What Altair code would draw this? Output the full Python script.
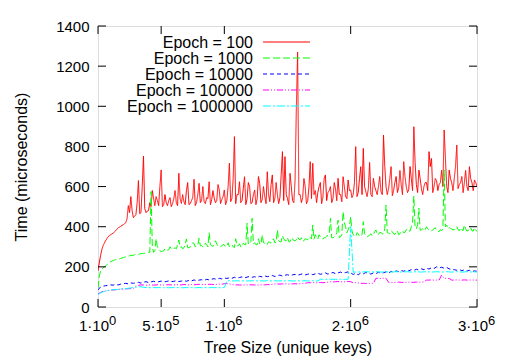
import altair as alt
import pandas as pd

# ---------------- data ----------------
key_step = 20000  # samples every 20 000 keys, 0 .. 3e6 (151 values)
# red and green are very noisy: extra samples read half-way between (10 000 + 20 000*i)

series_names = ["Epoch = 100", "Epoch = 1000", "Epoch = 10000",
                "Epoch = 100000", "Epoch = 1000000"]
series_colors = ["#ff0000", "#00ff00", "#0000ff", "#ff00ff", "#00ffff"]
series_dashes = [[1, 0], [7, 3], [4, 3], [6, 2, 1, 2, 1, 2], [8, 2, 2, 2]]

epoch_100 = [
    180, 255, 305, 330, 350, 360, 368, 380, 395, 402,
    410, 420, 505, 550, 445, 460, 630, 470, 752, 470,
    480, 500, 540, 550, 505, 683, 510, 520, 530, 500,
    540, 520, 666, 516, 525, 580, 510, 530, 636, 520,
    616, 530, 525, 545, 624, 535, 541, 530, 583, 535,
    583, 530, 716, 540, 849, 560, 624, 530, 649, 540,
    600, 520, 583, 540, 616, 535, 550, 674, 525, 658,
    540, 560, 545, 774, 749, 540, 666, 530, 633, 1270,
    560, 545, 600, 530, 724, 716, 580, 570, 620, 545,
    658, 570, 600, 540, 590, 641, 560, 649, 550, 633,
    583, 560, 799, 570, 699, 790, 575, 590, 560, 641,
    580, 600, 575, 857, 600, 590, 699, 580, 650, 595,
    610, 724, 600, 585, 640, 898, 610, 682, 590, 600,
    620, 774, 740, 600, 630, 610, 682, 882, 600, 682,
    620, 640, 807, 610, 650, 620, 600, 699, 620, 633, 600,
]
epoch_100_mid = [
    220, 285, 318, 340, 355, 364, 374, 388, 398, 406,
    415, 440, 470, 480, 452, 520, 465, 600, 490, 478,
    520, 580, 505, 530, 600, 500, 560, 505, 545, 515,
    580, 505, 540, 560, 510, 620, 515, 545, 505, 560,
    520, 600, 515, 540, 510, 580, 520, 610, 515, 550,
    510, 600, 525, 640, 515, 560, 520, 590, 510, 620,
    515, 560, 510, 650, 520, 600, 515, 560, 610, 520,
    620, 515, 660, 530, 560, 510, 600, 520, 990, 560,
    520, 640, 515, 600, 540, 560, 520, 600, 515, 640,
    530, 580, 520, 620, 530, 560, 525, 600, 540, 580,
    545, 620, 550, 640, 560, 600, 550, 720, 550, 600,
    560, 650, 560, 700, 560, 640, 555, 620, 570, 680,
    560, 650, 570, 700, 580, 720, 570, 640, 560, 620,
    580, 700, 570, 640, 580, 620, 600, 740, 570, 640,
    580, 700, 590, 620, 570, 680, 580, 640, 580, 620,
]
epoch_1000 = [
    95, 180, 195, 205, 215, 225, 232, 236, 238, 242,
    246, 250, 252, 258, 258, 262, 262, 266, 267, 270,
    272, 575, 272, 340, 290, 276, 280, 282, 285, 290,
    292, 290, 334, 300, 295, 339, 296, 305, 317, 304,
    342, 306, 300, 312, 370, 305, 317, 314, 305, 304,
    309, 305, 300, 310, 296, 305, 315, 300, 312, 417,
    318, 442, 320, 310, 315, 359, 318, 312, 322, 330,
    320, 384, 325, 355, 330, 345, 325, 340, 330, 350,
    335, 328, 340, 335, 345, 408, 360, 338, 350, 340,
    345, 360, 442, 345, 355, 433, 350, 475, 400, 384,
    450, 360, 350, 365, 355, 425, 358, 352, 365, 360,
    384, 362, 370, 365, 508, 368, 380, 365, 372, 360,
    375, 370, 385, 380, 400, 553, 390, 492, 385, 380,
    400, 385, 378, 390, 382, 375, 380, 683, 408, 395,
    388, 384, 400, 380, 385, 408, 378, 385, 380, 395, 375,
]
epoch_1000_mid = [
    150, 188, 200, 210, 220, 228, 234, 237, 240, 244,
    248, 251, 255, 256, 260, 262, 264, 266, 268, 271,
    272, 300, 280, 300, 280, 278, 290, 283, 300, 288,
    295, 310, 298, 290, 310, 295, 300, 320, 300, 306,
    305, 300, 318, 300, 310, 302, 330, 304, 300, 312,
    300, 320, 305, 300, 340, 305, 300, 318, 310, 312,
    325, 315, 310, 340, 312, 320, 308, 325, 318, 340,
    322, 330, 325, 340, 330, 326, 345, 330, 335, 338,
    345, 330, 338, 350, 340, 338, 345, 360, 340, 345,
    350, 365, 345, 350, 370, 345, 360, 420, 370, 400,
    380, 355, 370, 352, 360, 365, 350, 360, 355, 375,
    360, 372, 365, 390, 370, 365, 375, 362, 380, 365,
    380, 372, 390, 378, 420, 395, 410, 382, 390, 385,
    390, 380, 385, 395, 378, 385, 390, 400, 390, 392,
    385, 392, 385, 395, 380, 390, 382, 395, 378, 385,
]
epoch_10000 = [
    85, 100, 104, 106, 108, 110, 109, 112, 110, 114,
    116, 118, 115, 120, 118, 121, 123, 119, 124, 126,
    122, 125, 128, 124, 126, 129, 125, 127, 130, 126,
    128, 131, 127, 129, 132, 128, 133, 130, 135, 131,
    134, 136, 132, 138, 135, 139, 141, 137, 143, 140,
    145, 142, 146, 143, 148, 144, 147, 150, 145, 149,
    152, 148, 151, 147, 153, 150, 155, 151, 154, 157,
    152, 156, 159, 154, 158, 161, 156, 160, 163, 158,
    162, 165, 160, 163, 167, 161, 165, 168, 163, 166,
    170, 164, 168, 172, 166, 170, 174, 168, 172, 175,
    170, 162, 168, 160, 170, 165, 172, 168, 164, 170,
    166, 173, 168, 171, 175, 169, 178, 172, 180, 176,
    182, 178, 184, 180, 186, 182, 188, 184, 190, 186,
    193, 189, 196, 192, 200, 195, 198, 193, 197, 190,
    188, 186, 183, 187, 181, 185, 179, 183, 176, 180, 178,
]
epoch_100000 = [
    65, 72, 78, 80, 82, 84, 85, 86, 88, 88,
    89, 90, 91, 92, 93, 105, 108, 110, 110, 108,
    110, 110, 109, 110, 111, 110, 109, 110, 111, 110,
    110, 111, 110, 110, 112, 111, 110, 112, 111, 112,
    113, 112, 113, 112, 113, 113, 112, 113, 114, 113,
    116, 117, 115, 112, 110, 110, 110, 109, 110, 110,
    111, 110, 110, 109, 110, 111, 110, 112, 111, 113,
    115, 115, 114, 115, 116, 115, 114, 115, 116, 115,
    116, 117, 118, 121, 121, 122, 120, 121, 122, 121,
    122, 124, 126, 125, 126, 127, 126, 125, 126, 127,
    126, 121, 121, 120, 118, 118, 117, 118, 118, 118,
    143, 143, 142, 143, 143, 123, 123, 122, 123, 124,
    123, 122, 123, 124, 123, 123, 124, 123, 124, 125,
    134, 134, 135, 134, 134, 134, 159, 143, 143, 142,
    134, 134, 135, 134, 134, 135, 134, 134, 135, 134, 134,
]
epoch_1000000 = [
    62, 70, 76, 80, 82, 84, 86, 87, 88, 90,
    91, 92, 93, 95, 97, 99, 100, 101, 98, 97,
    96, 96, 97, 96, 97, 96, 96, 97, 96, 96,
    97, 96, 97, 96, 96, 97, 96, 97, 96, 96,
    97, 96, 97, 96, 96, 97, 96, 97, 96, 96,
    97, 130, 131, 130, 130, 131, 130, 130, 131, 130,
    130, 131, 130, 130, 131, 130, 130, 131, 130, 130,
    131, 130, 130, 131, 130, 130, 131, 130, 130, 131,
    130, 130, 131, 130, 130, 131, 130, 130, 138, 138,
    138, 138, 138, 138, 138, 138, 138, 138, 138, 138,
    400, 173, 174, 175, 174, 175, 176, 175, 174, 175,
    176, 175, 174, 175, 176, 175, 174, 175, 176, 175,
    174, 175, 176, 175, 174, 175, 176, 175, 174, 175,
    176, 175, 174, 175, 176, 175, 174, 175, 176, 175,
    174, 175, 176, 175, 174, 175, 176, 175, 174, 175, 174,
]

x_tick_values = [0, 500000, 1000000, 2000000, 3000000]
x_tick_mantissa = ["1·10", "5·10", "1·10", "2·10", "3·10"]
x_tick_exponent = ["0", "5", "6", "6", "6"]
y_tick_values = [0, 200, 400, 600, 800, 1000, 1200, 1400]

# ---------------- build tables ----------------
rows = []
main = [epoch_100, epoch_1000, epoch_10000, epoch_100000, epoch_1000000]
mids = [epoch_100_mid, epoch_1000_mid, [], [], []]
for name, vals, mvals in zip(series_names, main, mids):
    for i, v in enumerate(vals):
        rows.append({"keys": i * key_step, "time": v, "series": name})
    for i, v in enumerate(mvals):
        rows.append({"keys": key_step // 2 + i * key_step, "time": v, "series": name})
df = pd.DataFrame(rows).sort_values(["series", "keys"]).reset_index(drop=True)

legend_df = pd.DataFrame({"series": series_names, "row": list(range(len(series_names)))})
ytick_df = pd.DataFrame({"time": y_tick_values})
xtick_df = pd.DataFrame({"keys": x_tick_values, "mant": x_tick_mantissa,
                         "expo": x_tick_exponent})

W, H = 379, 281
FONT = "Liberation Sans"
FS = 16      # titles and legend
FS_TICK = 15  # tick labels

x_scale = alt.Scale(domain=[0, 3000000], nice=False, zero=False)
y_scale = alt.Scale(domain=[0, 1400], nice=False)
color_scale = alt.Scale(domain=series_names, range=series_colors)
dash_scale = alt.Scale(domain=series_names, range=series_dashes)
row_scale = alt.Scale(domain=[0, 4], range=[16, 80])

lines = alt.Chart(df).mark_line(strokeWidth=1, clip=True).encode(
    x=alt.X("keys:Q", scale=x_scale, axis=alt.Axis(
        values=x_tick_values, labels=False, ticks=False, domain=False, grid=False,
        title="Tree Size (unique keys)", titleFont=FONT, titleFontSize=FS,
        titleFontWeight="normal", titleColor="black", titlePadding=32)),
    y=alt.Y("time:Q", scale=y_scale, axis=alt.Axis(
        values=y_tick_values, format="d", ticks=False, domain=False, grid=False,
        labelFontSize=FS_TICK, labelFont=FONT, labelColor="black", labelPadding=9,
        title="Time (microseconds)", titleFont=FONT, titleFontSize=FS,
        titleFontWeight="normal", titleColor="black", titlePadding=26)),
    color=alt.Color("series:N", scale=color_scale, legend=None),
    strokeDash=alt.StrokeDash("series:N", scale=dash_scale, legend=None),
    detail="series:N",
)

tick_len = 8
left_ticks = alt.Chart(ytick_df).mark_rule(color="black", strokeWidth=1).encode(
    y=alt.Y("time:Q", scale=y_scale, axis=None), x=alt.value(0), x2=alt.value(tick_len))
right_ticks = alt.Chart(ytick_df).mark_rule(color="black", strokeWidth=1).encode(
    y=alt.Y("time:Q", scale=y_scale, axis=None), x=alt.value(W - tick_len), x2=alt.value(W))
bottom_ticks = alt.Chart(xtick_df).mark_rule(color="black", strokeWidth=1).encode(
    x=alt.X("keys:Q", scale=x_scale), y=alt.value(H - tick_len), y2=alt.value(H))
top_ticks = alt.Chart(xtick_df).mark_rule(color="black", strokeWidth=1).encode(
    x=alt.X("keys:Q", scale=x_scale), y=alt.value(0), y2=alt.value(tick_len))

# x tick labels written as mantissa·10 with a raised exponent
x_mant = alt.Chart(xtick_df).mark_text(
    align="right", baseline="alphabetic", fontSize=FS_TICK, font=FONT, color="black", dx=11
).encode(x=alt.X("keys:Q", scale=x_scale), y=alt.value(H + 24), text="mant:N")
x_expo = alt.Chart(xtick_df).mark_text(
    align="left", baseline="alphabetic", fontSize=13, font=FONT, color="black", dx=11
).encode(x=alt.X("keys:Q", scale=x_scale), y=alt.value(H + 18), text="expo:N")

# legend (gnuplot style: label on the left, line sample on the right)
legend_text = alt.Chart(legend_df).mark_text(
    align="right", baseline="middle", fontSize=FS, font=FONT, color="black", dy=1
).encode(
    y=alt.Y("row:Q", scale=row_scale, axis=None),
    x=alt.value(155),
    text="series:N",
)
legend_lines = alt.Chart(legend_df).mark_rule(strokeWidth=1).encode(
    y=alt.Y("row:Q", scale=row_scale, axis=None),
    x=alt.value(165), x2=alt.value(212),
    color=alt.Color("series:N", scale=color_scale, legend=None),
    strokeDash=alt.StrokeDash("series:N", scale=dash_scale, legend=None),
)

chart = alt.layer(
    lines, left_ticks, right_ticks, bottom_ticks, top_ticks,
    x_mant, x_expo, legend_text, legend_lines
).resolve_scale(y="independent").properties(
    width=W, height=H,
    padding={"left": 90, "top": 18, "right": 29, "bottom": 55},
    autosize=alt.AutoSizeParams(type="none"),
    background="white",
).configure_view(stroke="black", strokeWidth=1).configure(font=FONT)

chart.save("out.html", embed_options={"renderer": "svg", "actions": False})
